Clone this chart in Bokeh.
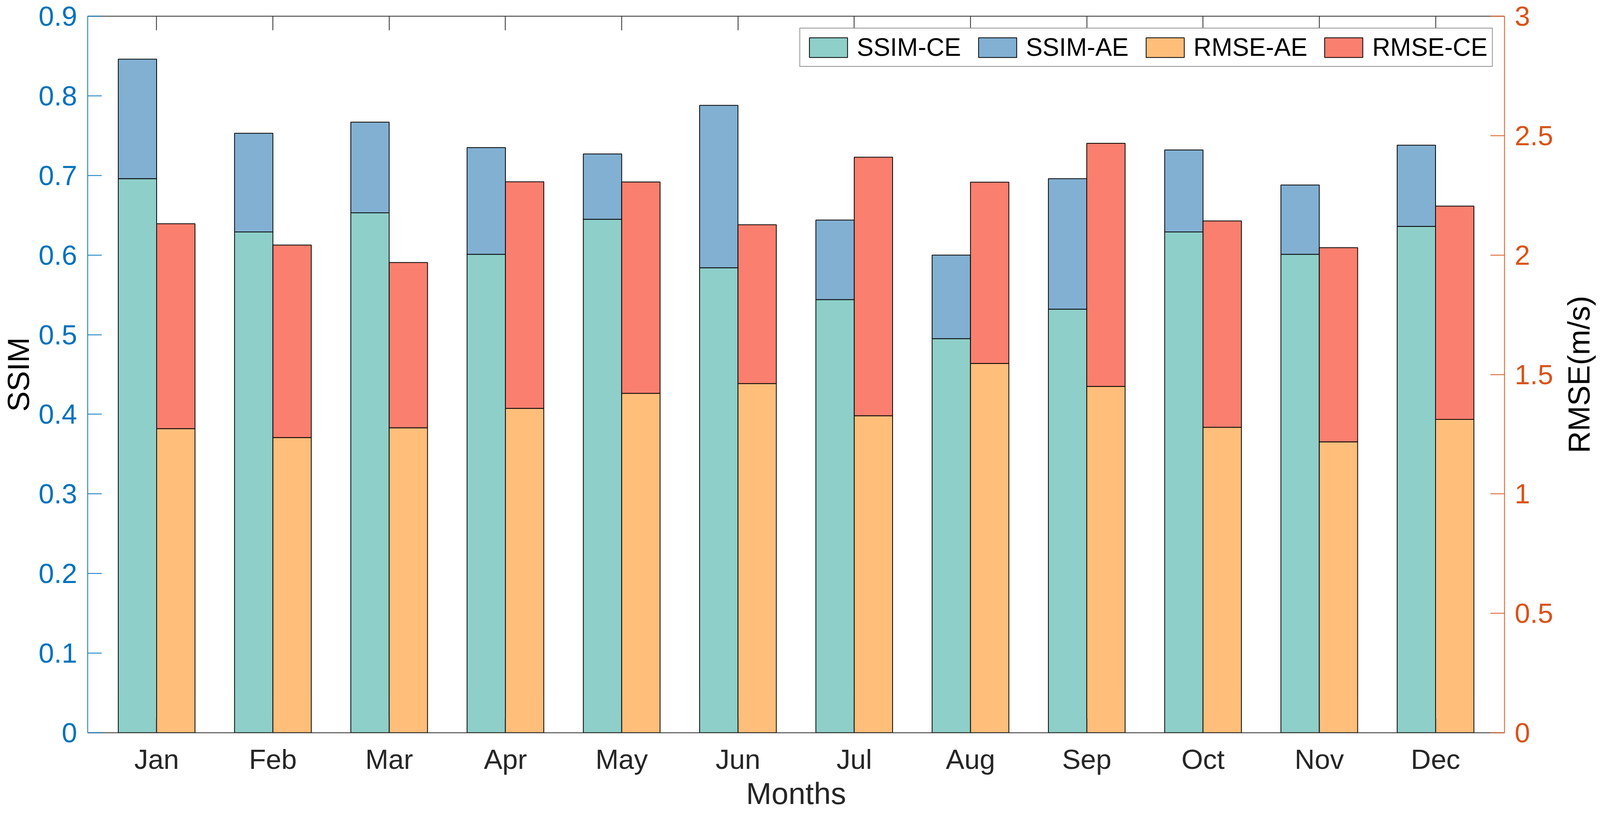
import math
from bokeh.plotting import figure
from bokeh.models import (ColumnDataSource, Range1d, LinearAxis, FixedTicker, Legend, LegendItem, Label)
from bokeh.embed import file_html
from bokeh.resources import INLINE

# ---------------- data ----------------
months = ["Jan", "Feb", "Mar", "Apr", "May", "Jun", "Jul", "Aug", "Sep", "Oct", "Nov", "Dec"]
ssim_ce = [0.696, 0.629, 0.653, 0.601, 0.645, 0.584, 0.544, 0.495, 0.532, 0.629, 0.601, 0.636]
ssim_ae = [0.846, 0.753, 0.767, 0.735, 0.727, 0.788, 0.644, 0.600, 0.696, 0.732, 0.688, 0.738]
rmse_ae = [1.273, 1.236, 1.277, 1.358, 1.421, 1.462, 1.327, 1.546, 1.450, 1.279, 1.218, 1.312]
rmse_ce = [2.131, 2.042, 1.969, 2.307, 2.306, 2.127, 2.410, 2.305, 2.468, 2.143, 2.031, 2.205]

ssim_ticks = [0, 0.1, 0.2, 0.3, 0.4, 0.5, 0.6, 0.7, 0.8, 0.9]
ssim_tick_labels = ["0", "0.1", "0.2", "0.3", "0.4", "0.5", "0.6", "0.7", "0.8", "0.9"]
rmse_ticks = [0, 0.5, 1, 1.5, 2, 2.5, 3]
rmse_tick_labels = ["0", "0.5", "1", "1.5", "2", "2.5", "3"]

series_names = ["SSIM-CE", "SSIM-AE", "RMSE-AE", "RMSE-CE"]
colors = ["#8ECFC9", "#82B0D2", "#FFBE7A", "#FA7F6F"]

x_title = "Months"
y_title = "SSIM"
y2_title = "RMSE(m/s)"

# ---------------- styles ----------------
FONT = "Liberation Sans"
LEFT_C = "#0072BD"
RIGHT_C = "#D95319"
AX_C = "#262626"
TICK_FS = "71px"
LABEL_FS = "78px"
LEG_FS = "64px"
BAR_W = 0.33
OFF = 0.165
X0, X1 = 0.407, 12.593

idx = list(range(1, len(months) + 1))
src = ColumnDataSource(dict(
    xs=[i - OFF for i in idx],
    xr=[i + OFF for i in idx],
    zero=[0] * len(idx),
    ssim_ce=ssim_ce, ssim_ae=ssim_ae,
    rmse_ae=rmse_ae, rmse_ce=rmse_ce,
))

p = figure(width=4091, height=2078, output_backend="svg", toolbar_location=None,
           x_range=Range1d(X0, X1), y_range=Range1d(0, 0.9),
           min_border_left=224, min_border_right=240, min_border_top=41, min_border_bottom=202,
           x_axis_location=None, y_axis_location=None)
p.extra_y_ranges = {"rmse": Range1d(0, 3)}
p.xgrid.visible = False
p.ygrid.visible = False
p.outline_line_color = None
p.background_fill_color = "white"
p.border_fill_color = "white"

LW = 2
r1 = p.vbar(x="xs", width=BAR_W, bottom="zero", top="ssim_ce", source=src,
            fill_color=colors[0], line_color="black", line_width=LW)
r2 = p.vbar(x="xs", width=BAR_W, bottom="ssim_ce", top="ssim_ae", source=src,
            fill_color=colors[1], line_color="black", line_width=LW)
r3 = p.vbar(x="xr", width=BAR_W, bottom="zero", top="rmse_ae", source=src, y_range_name="rmse",
            fill_color=colors[2], line_color="black", line_width=LW)
r4 = p.vbar(x="xr", width=BAR_W, bottom="rmse_ae", top="rmse_ce", source=src, y_range_name="rmse",
            fill_color=colors[3], line_color="black", line_width=LW)

def style_axis(ax, color):
    ax.axis_line_color = color
    ax.axis_line_width = 2
    ax.major_tick_line_color = color
    ax.major_tick_line_width = 2
    ax.major_tick_in = 36
    ax.major_tick_out = 0
    ax.minor_tick_line_color = None
    ax.major_label_text_color = color
    ax.major_label_text_font = FONT
    ax.major_label_text_font_size = TICK_FS

# bottom axis
xb = LinearAxis(ticker=FixedTicker(ticks=idx),
                major_label_overrides={i: m for i, m in zip(idx, months)})
style_axis(xb, AX_C)
xb.major_label_standoff = 28
p.add_layout(xb, "below")

# top axis: box edge with inward ticks, no labels
xt = LinearAxis(ticker=FixedTicker(ticks=idx),
                major_label_overrides={i: "" for i in idx})
style_axis(xt, AX_C)
xt.major_label_text_font_size = "0px"
xt.major_label_standoff = 0
p.add_layout(xt, "above")

# left axis
yl = LinearAxis(ticker=FixedTicker(ticks=ssim_ticks),
                major_label_overrides={t: s for t, s in zip(ssim_ticks, ssim_tick_labels)})
style_axis(yl, LEFT_C)
yl.major_label_standoff = 27
p.add_layout(yl, "left")

# right axis
yr = LinearAxis(y_range_name="rmse", ticker=FixedTicker(ticks=rmse_ticks),
                major_label_overrides={t: s for t, s in zip(rmse_ticks, rmse_tick_labels)})
style_axis(yr, RIGHT_C)
yr.major_label_standoff = 26
p.add_layout(yr, "right")

# axis titles, placed in the side panels (vertical ones read bottom-to-top)
def title_label(text, x, y, angle, color, side, y_range_name="default"):
    lab = Label(x=x, y=y, text=text, angle=angle, y_range_name=y_range_name,
                text_font=FONT, text_font_size=LABEL_FS, text_color=color,
                text_align="center", text_baseline="middle")
    p.add_layout(lab, side)

title_label(x_title, (X0 + X1) / 2, -0.0765, 0, AX_C, "below")
title_label(y_title, X0 - 0.598, 0.45, math.pi / 2, "#000000", "left")
title_label(y2_title, X1 + 0.6417, 1.5, math.pi / 2, "#000000", "right", "rmse")

legend = Legend(items=[LegendItem(label=n, renderers=[r]) for n, r in zip(series_names, [r1, r2, r3, r4])],
                orientation="horizontal", location="top_right")
legend.margin = 30
legend.padding = 11
legend.spacing = 32
legend.glyph_width = 122
legend.glyph_height = 63
legend.label_standoff = 12
legend.label_text_font = FONT
legend.label_text_font_size = LEG_FS
legend.label_text_color = "#000000"
legend.border_line_color = AX_C
legend.border_line_width = 2
legend.background_fill_color = "white"
legend.background_fill_alpha = 1.0
p.add_layout(legend, "center")

open("out.html", "w").write(file_html(p, INLINE))
